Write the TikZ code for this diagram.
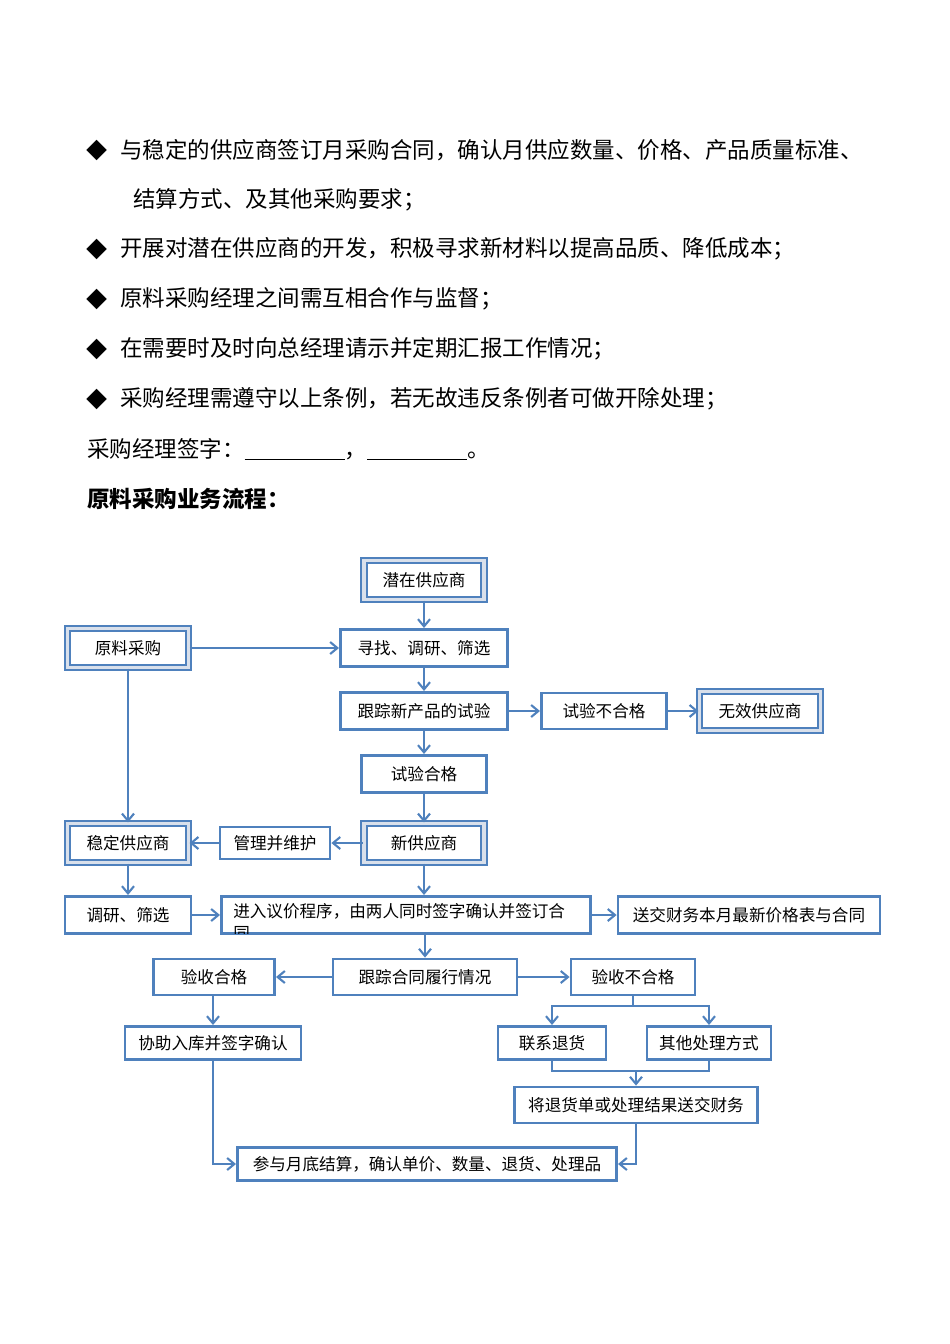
\documentclass[tikz,border=0pt]{standalone}
\usepackage{fontspec}
\setmainfont{Noto Sans CJK SC}
\usepackage{tikz}
\usetikzlibrary{arrows.meta,calc}
\definecolor{flowblue}{HTML}{4F81BD}
\definecolor{bevelgray}{HTML}{D9E0EB}
\tikzset{
  box/.style={draw=flowblue, fill=white, line width=2pt, align=center, inner sep=0pt, font=\fontsize{11.8pt}{14pt}\selectfont},
  bevelbox/.style={box, line width=1.4pt, double=bevelgray, double distance=2.6pt},
  conn/.style={-{Straight Barb[length=1.8mm,width=3mm]}, draw=flowblue, line width=1.5pt},
  link/.style={draw=flowblue, line width=1.5pt},
  bodytext/.style={anchor=west, inner sep=0pt, font=\fontsize{16pt}{19pt}\selectfont},
  bullet/.style={inner sep=0pt, font=\fontsize{15pt}{18pt}\selectfont}
}

\begin{document}
\begin{tikzpicture}[x=0.25mm, y=-0.25mm]
\useasboundingbox (0,0) rectangle (950,1344);
% rules above the chart
\foreach \y in {150,249,299,349,399}{
  \node[bullet] (b\y) at (97,\y) {◆};
}
\node[bodytext] (r1) at (120,150) {与稳定的供应商签订月采购合同，确认月供应数量、价格、产品质量标准、};
\node[bodytext] (r1b) at (133,200) {结算方式、及其他采购要求；};
\node[bodytext] (r2) at (120,249) {开展对潜在供应商的开发，积极寻求新材料以提高品质、降低成本；};
\node[bodytext] (r3) at (120,299) {原料采购经理之间需互相合作与监督；};
\node[bodytext] (r4) at (120,349) {在需要时及时向总经理请示并定期汇报工作情况；};
\node[bodytext] (r5) at (120,399) {采购经理需遵守以上条例，若无故违反条例者可做开除处理；};
\node[bodytext] (sign) at (87,449) {采购经理签字：\rule[-2pt]{25mm}{0.6pt}，\rule[-2pt]{25mm}{0.6pt}。};
\node[bodytext, font=\fontsize{16pt}{19pt}\selectfont\bfseries] (title) at (87,499) {原料采购业务流程：};

% suppliers
\node[bevelbox, minimum width=30.1mm, minimum height=9.8mm] (qianzai) at (424,580) {潜在供应商};
\node[bevelbox, minimum width=30.3mm, minimum height=9.8mm] (yuanliao) at (128,648) {原料采购};
\node[box, minimum width=41.8mm, minimum height=9.3mm] (xunzhao) at (424,648) {寻找、调研、筛选};
\node[box, minimum width=41.8mm, minimum height=9.3mm] (shiyan) at (424,711) {跟踪新产品的试验};
\node[box, minimum width=31.3mm, minimum height=9mm] (bhgtest) at (604,711) {试验不合格};
\node[bevelbox, minimum width=30.3mm, minimum height=9.8mm] (wuxiao) at (760,711) {无效供应商};
\node[box, minimum width=31.3mm, minimum height=9.3mm] (hgtest) at (424,774) {试验合格};
\node[bevelbox, minimum width=30.3mm, minimum height=9.8mm] (wending) at (128,843) {稳定供应商};
\node[box, minimum width=27.5mm, minimum height=8mm] (guanli) at (275,843) {管理并维护};
\node[bevelbox, minimum width=30.1mm, minimum height=9.8mm] (xin) at (424,843) {新供应商};
% contract
\node[box, minimum width=31.5mm, minimum height=9.3mm] (diaoyan) at (128,915) {调研、筛选};
\node[box, minimum width=92.3mm, minimum height=9.3mm] (yijia) at (406,915) {};
\begin{scope}
  \clip ($(yijia.south west)+(2,-2)$) rectangle ($(yijia.north east)+(-2,2)$);
  \node[anchor=north west, inner sep=0pt, align=left, font=\fontsize{11.8pt}{16pt}\selectfont] (yijiatxt) at (233,903) {进入议价程序，由两人同时签字确认并签订合\\同};
\end{scope}
\node[box, minimum width=65.5mm, minimum height=9.3mm] (songjiao) at (749,915) {送交财务本月最新价格表与合同};
% acceptance
\node[box, minimum width=30.3mm, minimum height=9mm] (yanshou) at (214,977) {验收合格};
\node[box, minimum width=46mm, minimum height=9mm] (lvxing) at (425,977) {跟踪合同履行情况};
\node[box, minimum width=31mm, minimum height=9mm] (bhgrecv) at (633,977) {验收不合格};
\node[box, minimum width=44mm, minimum height=8.3mm] (xiezhu) at (213,1043) {协助入库并签字确认};
\node[box, minimum width=27mm, minimum height=8.3mm] (lianxi) at (552,1043) {联系退货};
\node[box, minimum width=31mm, minimum height=8.3mm] (qita) at (709,1043) {其他处理方式};
\node[box, minimum width=60.8mm, minimum height=9mm] (jiang) at (636,1105) {将退货单或处理结果送交财务};
\node[box, minimum width=94.8mm, minimum height=8.3mm] (canyu) at (427,1164) {参与月底结算，确认单价、数量、退货、处理品};

% connectors
\draw[conn] (qianzai) -- (xunzhao);
\draw[conn] (yuanliao) -- (xunzhao);
\draw[conn] (yuanliao) -- (wending);
\draw[conn] (xunzhao) -- (shiyan);
\draw[conn] (shiyan) -- (bhgtest);
\draw[conn] (bhgtest) -- (wuxiao);
\draw[conn] (shiyan) -- (hgtest);
\draw[conn] (hgtest) -- (xin);
\draw[conn] (xin) -- (guanli);
\draw[conn] (guanli) -- (wending);
\draw[conn] (wending) -- (diaoyan);
\draw[conn] (diaoyan) -- (yijia);
\draw[conn] (xin) -- (xin |- yijia.north);
\draw[conn] (yijia) -- (songjiao);
\draw[conn] (yijia.south -| lvxing) -- (lvxing);
\draw[conn] (lvxing) -- (yanshou);
\draw[conn] (lvxing) -- (bhgrecv);
\draw[conn] (yanshou.south -| xiezhu) -- (xiezhu);
\draw[conn] (bhgrecv.south) -- ++(0,10) -| (lianxi.north);
\draw[conn] (bhgrecv.south) -- ++(0,10) -| (qita.north);
\coordinate (merge) at (jiang.north |- 1071,1071);
\draw[link] (lianxi.south) -- ++(0,10) -| (qita.south);
\draw[conn] (merge) -- (jiang);
\draw[conn] (xiezhu.south) |- (canyu.west);
\draw[conn] (jiang.south) |- (canyu.east);
\end{tikzpicture}
\end{document}
